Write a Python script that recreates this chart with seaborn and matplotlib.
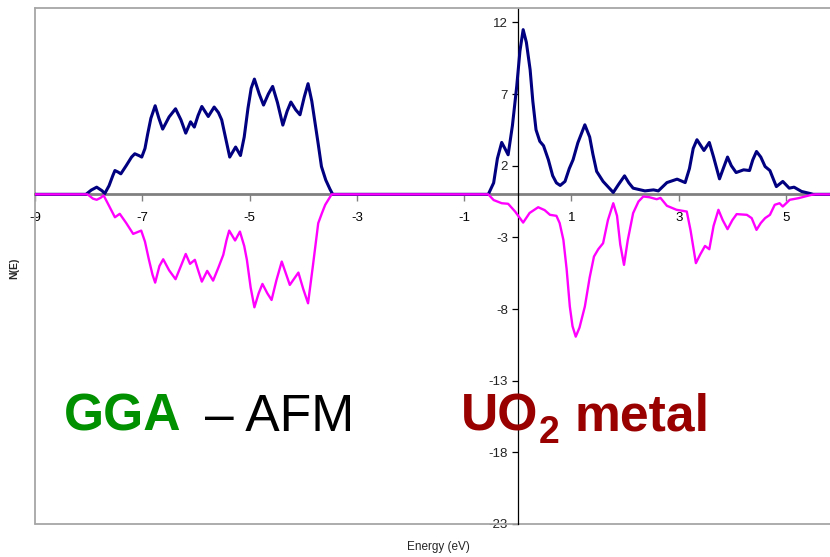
import matplotlib
matplotlib.use("Agg")
import matplotlib.pyplot as plt
import numpy as np
import pandas as pd
import seaborn as sns

# Spin-up density of states (eV, states)
energy_up = [
    -9.0, -8.05, -7.95, -7.85, -7.75, -7.70, -7.62, -7.55, -7.51, -7.45, -7.40,
    -7.30, -7.20, -7.14, -7.06, -7.01, -6.95, -6.90, -6.84, -6.76, -6.69, -6.62,
    -6.50, -6.38, -6.28, -6.19, -6.10, -6.03, -5.96, -5.89, -5.77, -5.66, -5.58,
    -5.52, -5.45, -5.37, -5.26, -5.17, -5.10, -5.03, -4.97, -4.91, -4.82, -4.74,
    -4.65, -4.57, -4.48, -4.38, -4.30, -4.23, -4.14, -4.06, -3.98, -3.91, -3.84,
    -3.78, -3.72, -3.66, -3.58, -3.50, -3.45, -0.55, -0.45, -0.38, -0.30, -0.24,
    -0.18, -0.10, -0.02, 0.04, 0.10, 0.16, 0.23, 0.28, 0.34, 0.41, 0.48, 0.57,
    0.65, 0.72, 0.79, 0.88, 0.96, 1.03, 1.12, 1.25, 1.34, 1.40, 1.47, 1.59, 1.70,
    1.78, 1.88, 1.99, 2.07, 2.15, 2.37, 2.53, 2.62, 2.78, 2.97, 3.12, 3.20, 3.27,
    3.34, 3.47, 3.57, 3.65, 3.76, 3.83, 3.91, 3.98, 4.07, 4.21, 4.32, 4.38, 4.45,
    4.53, 4.61, 4.70, 4.82, 4.94, 5.06, 5.15, 5.29, 5.48, 5.50, 5.82,
]
dos_up = [
    0.0, 0.0, 0.30, 0.50, 0.25, 0.05, 0.60, 1.30, 1.66, 1.55, 1.43,
    2.00, 2.60, 2.83, 2.70, 2.60, 3.20, 4.20, 5.30, 6.18, 5.30, 4.55,
    5.40, 5.97, 5.20, 4.27, 5.06, 4.69, 5.50, 6.13, 5.43, 6.09, 5.70,
    5.20, 4.00, 2.60, 3.30, 2.71, 4.00, 6.00, 7.40, 8.04, 7.00, 6.23,
    7.00, 7.53, 6.40, 4.83, 5.80, 6.44, 5.90, 5.55, 6.80, 7.72, 6.50,
    5.00, 3.50, 1.94, 1.00, 0.35, 0.0, 0.0, 0.80, 2.50, 3.62, 3.20,
    2.76, 4.80, 7.53, 10.00, 11.49, 10.60, 8.69, 6.50, 4.50, 3.70, 3.39, 2.41,
    1.30, 0.80, 0.62, 0.90, 1.80, 2.41, 3.60, 4.85, 4.00, 2.80, 1.60, 0.90, 0.45,
    0.13, 0.70, 1.29, 0.80, 0.43, 0.24, 0.31, 0.24, 0.82, 1.06, 0.82, 1.80, 3.20,
    3.81, 3.06, 3.62, 2.60, 1.08, 1.80, 2.60, 2.00, 1.52, 1.71, 1.66, 2.40, 2.99,
    2.60, 1.94, 1.66, 0.54, 0.90, 0.43, 0.50, 0.20, 0.03, 0.0, 0.0,
]

# Spin-down density of states (plotted as negative values)
energy_down = [
    -9.0, -8.02, -7.92, -7.85, -7.78, -7.72, -7.62, -7.51, -7.42, -7.30, -7.17,
    -7.02, -6.95, -6.88, -6.81, -6.76, -6.68, -6.61, -6.50, -6.38, -6.28, -6.19,
    -6.11, -6.02, -5.95, -5.89, -5.79, -5.68, -5.58, -5.49, -5.43, -5.38, -5.27,
    -5.18, -5.10, -5.05, -4.98, -4.91, -4.83, -4.76, -4.67, -4.59, -4.50, -4.40,
    -4.25, -4.09, -4.00, -3.91, -3.82, -3.72, -3.65, -3.59, -3.47, -0.55, -0.45,
    -0.30, -0.18, -0.05, 0.10, 0.22, 0.38, 0.50, 0.60, 0.72, 0.78, 0.85, 0.91,
    0.97, 1.02, 1.08, 1.15, 1.25, 1.34, 1.42, 1.50, 1.59, 1.68, 1.78, 1.85, 1.91,
    1.98, 2.05, 2.15, 2.25, 2.34, 2.45, 2.59, 2.66, 2.78, 2.96, 3.15, 3.22, 3.32,
    3.40, 3.49, 3.57, 3.65, 3.74, 3.82, 3.91, 4.00, 4.08, 4.27, 4.36, 4.45, 4.53,
    4.61, 4.70, 4.79, 4.88, 4.94, 5.07, 5.23, 5.48, 5.55, 5.82,
]
dos_down = [
    0.0, 0.0, -0.30, -0.38, -0.25, -0.08, -0.80, -1.60, -1.36, -2.00, -2.76,
    -2.53, -3.30, -4.50, -5.60, -6.16, -5.00, -4.53, -5.30, -5.92, -5.00, -4.16,
    -4.85, -4.57, -5.40, -6.09, -5.34, -6.02, -5.10, -4.22, -3.20, -2.53, -3.22,
    -2.60, -3.60, -4.57, -6.50, -7.88, -6.90, -6.25, -6.90, -7.37, -6.00, -4.69,
    -6.32, -5.46, -6.60, -7.60, -5.00, -2.01, -1.30, -0.73, 0.0, 0.0, -0.40,
    -0.62, -0.66, -1.20, -1.97, -1.30, -0.90, -1.10, -1.43, -1.50, -2.00, -3.18, -5.20,
    -7.83, -9.20, -9.93, -9.30, -7.83, -5.80, -4.34, -3.83, -3.41, -1.80, -0.62, -1.50, -3.50,
    -4.92, -3.20, -1.31, -0.50, -0.15, -0.20, -0.34, -0.25, -0.80, -1.08, -1.20, -2.50, -4.80,
    -4.20, -3.60, -3.83, -2.20, -1.08, -1.80, -2.43, -1.80, -1.38, -1.43, -1.66, -2.48, -2.00,
    -1.66, -1.43, -0.73, -0.62, -0.85, -0.38, -0.27, -0.03, 0.0, 0.0,
]

x_ticks = [-9, -7, -5, -3, -1, 1, 3, 5]
y_ticks = [12, 7, 2, -3, -8, -13, -18, -23]

sns.set_theme(style="white")
plt.rcParams["font.family"] = ["Liberation Sans", "DejaVu Sans"]

W, H = 830, 557
fig = plt.figure(figsize=(W / 100, H / 100), dpi=100)
fig.patch.set_facecolor("white")
ax = fig.add_axes([35 / W, 1 - 524 / H, (W - 35) / W, (524 - 8) / H])
ax.set_facecolor("white")

up = pd.DataFrame({"energy": energy_up, "dos": dos_up})
down = pd.DataFrame({"energy": energy_down, "dos": dos_down})

sns.lineplot(data=up, x="energy", y="dos", color="#000080", linewidth=2.2,
             sort=False, estimator=None, ax=ax, zorder=3,
             solid_joinstyle="round", solid_capstyle="round")
sns.lineplot(data=down, x="energy", y="dos", color="#ff00ff", linewidth=1.7,
             sort=False, estimator=None, ax=ax, zorder=4,
             solid_joinstyle="round", solid_capstyle="round")

ax.set_xlim(-9, 5.82)
ax.set_ylim(-23, 13)
ax.set_xlabel("")
ax.set_ylabel("")

# axes crossing at the origin
ax.spines["left"].set_position(("data", 0))
ax.spines["left"].set_color("black")
ax.spines["left"].set_linewidth(0.9)
ax.spines["bottom"].set_position(("data", 0))
ax.spines["bottom"].set_color("#808080")
ax.spines["bottom"].set_linewidth(2.0)
ax.spines["bottom"].set_zorder(2)
ax.spines["top"].set_color("#a6a6a6")
ax.spines["top"].set_linewidth(1.3)
ax.spines["right"].set_visible(False)

# plot-area frame
frame_kw = dict(transform=ax.transAxes, color="#a6a6a6", lw=1.3, clip_on=False, zorder=1)
ax.plot([0, 0], [0, 1], **frame_kw)
ax.plot([0, 1], [0, 0], **frame_kw)

ax.set_xticks(x_ticks)
ax.set_xticklabels([str(t) for t in x_ticks])
ax.set_yticks(y_ticks)
ax.set_yticklabels([str(t) for t in y_ticks])
ax.tick_params(axis="x", direction="out", length=5, width=1, color="#808080",
               pad=8, labelsize=9.5, labelcolor="black", bottom=True)
ax.tick_params(axis="y", direction="out", length=4, width=0.9, color="black",
               pad=3, labelsize=9.5, labelcolor="#222222", left=True)
ax.grid(False)

fig.text(14 / W, 1 - 268 / H, "N(E)", rotation=90, fontsize=7.5, fontweight="bold",
         ha="center", va="center")
fig.text(438 / W, 1 - 547 / H, "Energy (eV)", fontsize=8.5, ha="center", va="center",
         fontstretch="condensed")

big = 37.2
fig.text(63.5 / W, 1 - 430.7 / H, "GGA", color="#009000", fontsize=big,
         fontweight="bold", va="baseline", ha="left")
fig.text(354 / W, 1 - 430.7 / H, "\u2013 AFM", color="black", fontsize=big,
         va="baseline", ha="right")
fig.text(460.6 / W, 1 - 430.7 / H, "UO", color="#990000", fontsize=big,
         fontweight="bold", va="baseline", ha="left")
fig.text(539 / W, 1 - 443.3 / H, "2", color="#990000", fontsize=27,
         fontweight="bold", va="baseline", ha="left")
fig.text(574 / W, 1 - 430.7 / H, "metal", color="#990000", fontsize=big,
         fontweight="bold", va="baseline", ha="left")

fig.savefig("out.png", dpi=100, facecolor="white")
